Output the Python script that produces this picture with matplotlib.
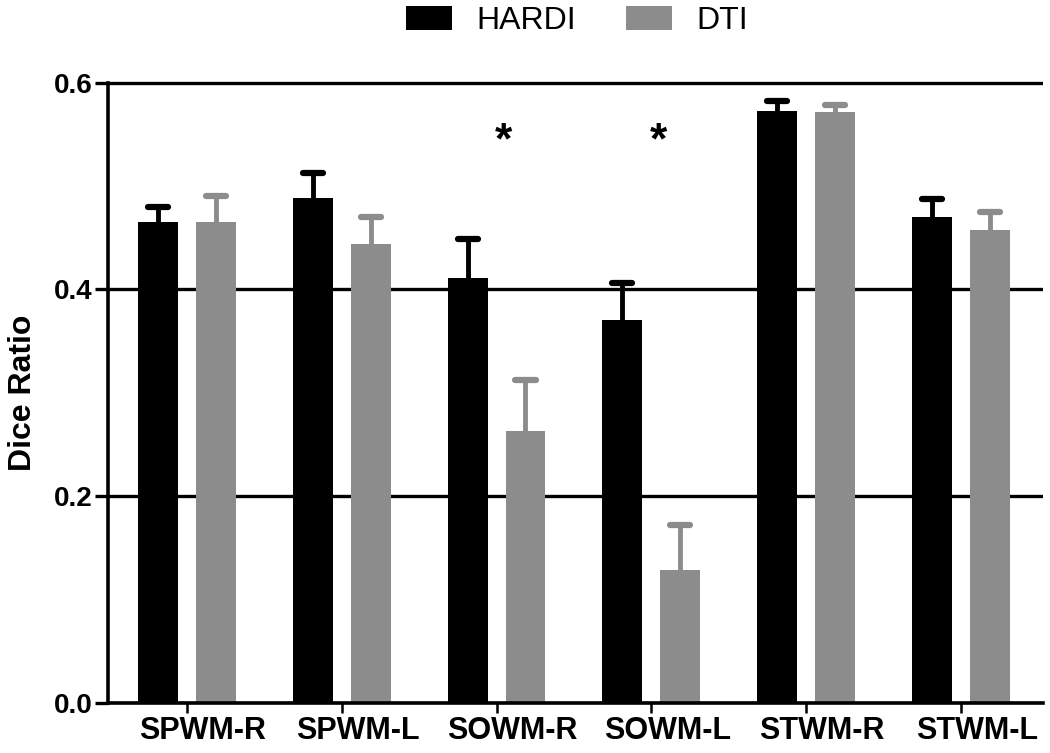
import matplotlib
matplotlib.use("Agg")
import matplotlib.pyplot as plt
import matplotlib.transforms as mtransforms
from matplotlib.patches import Patch
import numpy as np

plt.rcParams['font.family'] = ['Liberation Sans', 'DejaVu Sans']

categories = ['SPWM-R', 'SPWM-L', 'SOWM-R', 'SOWM-L', 'STWM-R', 'STWM-L']
hardi = [0.465, 0.488, 0.411, 0.370, 0.573, 0.470]
hardi_err = [0.015, 0.025, 0.038, 0.036, 0.009, 0.017]
dti = [0.465, 0.444, 0.263, 0.128, 0.572, 0.457]
dti_err = [0.025, 0.026, 0.049, 0.044, 0.006, 0.018]
significant = ['SOWM-R', 'SOWM-L']
yticks = [0.0, 0.2, 0.4, 0.6]
ytick_labels = ['0.0', '0.2', '0.4', '0.6']

BLACK = '#000000'
GRAY = '#8c8c8c'

W, H = 1050, 753
fig = plt.figure(figsize=(W / 100, H / 100), dpi=100)
ax_left, ax_right = 108 / W, 1043 / W
ax_bottom = 1 - 702.6 / H
ax_h06 = (702.6 - 82.7) / H
ytop = 0.603
ax = fig.add_axes([ax_left, ax_bottom, ax_right - ax_left, ax_h06 * ytop / 0.6])

x = np.arange(len(categories))
bw = 0.258
off = 0.187

ax.bar(x - off, hardi, width=bw, color=BLACK, zorder=2, linewidth=0)
ax.bar(x + off, dti, width=bw, color=GRAY, zorder=2, linewidth=0)

def draw_err(xs, means, errs, color):
    means = np.asarray(means)
    errs = np.asarray(errs)
    ax.errorbar(xs, means, yerr=[np.zeros_like(errs), errs], fmt='none',
                ecolor=color, elinewidth=3.5, capsize=0, zorder=3)
    caps = ax.hlines(means + errs, xs - 0.065, xs + 0.065, colors=color,
                     linewidth=4.5, zorder=3)
    caps.set_capstyle('round')

draw_err(x - off, hardi, hardi_err, BLACK)
draw_err(x + off, dti, dti_err, GRAY)

for cat in significant:
    i = categories.index(cat)
    ax.text(i + 0.045, 0.532, '*', ha='center', va='baseline',
            fontsize=32, fontweight='bold', color='black')

ax.set_xlim(-0.51, 5.53)
ax.set_ylim(0, ytop)
ax.set_yticks(yticks)
ax.set_yticklabels(ytick_labels, fontsize=20, fontweight='bold')
ax.set_xticks(x)
ax.set_xticklabels(categories, fontsize=22, fontweight='bold')

ax.yaxis.grid(True, color='black', linewidth=2.4)
ax.set_axisbelow(True)

for s in ['top', 'right']:
    ax.spines[s].set_visible(False)
ax.spines['left'].set_linewidth(2.6)
ax.spines['bottom'].set_linewidth(2.6)
ax.spines['left'].set_bounds(0, 0.6)

ax.tick_params(axis='y', length=9.5, width=2.4, pad=1.5, direction='out')
ax.tick_params(axis='x', length=7, width=1.8, pad=3, direction='out')

shift = mtransforms.ScaledTranslation(16 / 100, 0, fig.dpi_scale_trans)
for lab in ax.get_xticklabels():
    lab.set_transform(lab.get_transform() + shift)

ax.set_ylabel('Dice Ratio', fontsize=23, fontweight='bold')
ax.yaxis.set_label_coords(-0.075, 0.6 / ytop * 0.5)

handles = [Patch(facecolor=BLACK, edgecolor='none'), Patch(facecolor=GRAY, edgecolor='none')]
fig.legend(handles, ['HARDI', 'DTI'], loc='center',
           bbox_to_anchor=(577 / W, 1 - 21 / H), ncol=2, frameon=False,
           fontsize=23, handlelength=1.44, handleheight=0.78,
           handletextpad=0.78, columnspacing=1.56, borderpad=0)

fig.savefig('out.png', dpi=100)
